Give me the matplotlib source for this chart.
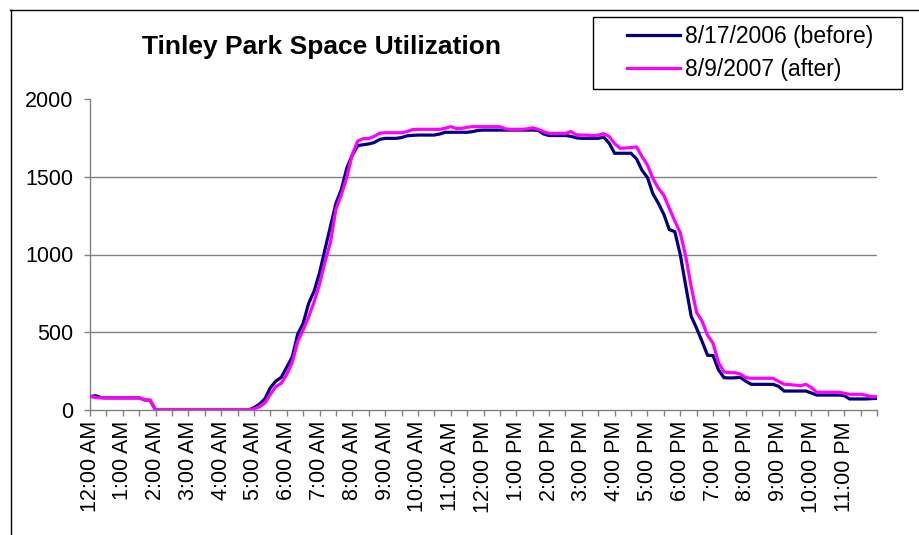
import numpy as np
import matplotlib
matplotlib.use("Agg")
import matplotlib.pyplot as plt
from matplotlib.lines import Line2D
from matplotlib.patches import Rectangle

plt.rcParams['font.family'] = ['Liberation Sans', 'DejaVu Sans']

# 10-minute samples from 12:00 AM to 12:00 AM (next day)
before_2006 = [
    86, 92, 80, 78, 78, 78, 78, 78, 78, 78, 65, 62,            # 0:00-1:50
    0, 0, 0, 0, 0, 0, 0, 0, 0, 0, 0, 0,                        # 2:00-3:50
    0, 0, 0, 0, 0, 0,                                          # 4:00-4:50
    15, 37, 72, 143, 186, 210,                                 # 5:00-5:50
    275, 341, 487, 557, 685, 764,                              # 6:00-6:50
    882, 1034, 1180, 1329, 1420, 1557,                         # 7:00-7:50
    1640, 1700, 1706, 1711, 1720, 1740,                        # 8:00-8:50
    1747, 1747, 1747, 1752, 1763, 1766,                        # 9:00-9:50
    1768, 1768, 1768, 1768, 1775, 1786,                        # 10:00-10:50
    1786, 1786, 1786, 1786, 1790, 1798,                        # 11:00-11:50
    1800, 1800, 1800, 1800, 1800, 1800,                        # 12:00-12:50
    1800, 1800, 1800, 1800, 1798, 1775,                        # 13:00-13:50
    1765, 1765, 1765, 1765, 1760, 1750,                        # 14:00-14:50
    1747, 1747, 1747, 1747, 1755, 1715,                        # 15:00-15:50
    1651, 1651, 1651, 1651, 1615, 1542,                        # 16:00-16:50
    1495, 1390, 1329, 1258, 1160, 1147,                        # 17:00-17:50
    1000, 799, 603, 525, 440, 352,                             # 18:00-18:50
    350, 258, 208, 206, 207, 210,                              # 19:00-19:50
    185, 165, 165, 165, 165, 165,                              # 20:00-20:50
    152, 122, 122, 122, 122, 122,                              # 21:00-21:50
    109, 96, 96, 96, 96, 96,                                   # 22:00-22:50
    92, 71, 71, 71, 71, 73,                                    # 23:00-23:50
    75,                                                        # 24:00
]

after_2007 = [
    88, 80, 78, 78, 78, 78, 78, 78, 78, 78, 65, 63,
    0, 0, 0, 0, 0, 0, 0, 0, 0, 0, 0, 0,
    0, 0, 0, 0, 0, 0,
    8, 20, 45, 101, 150, 172,
    228, 305, 439, 514, 599, 695,
    809, 953, 1078, 1292, 1385, 1497,
    1644, 1730, 1745, 1745, 1760, 1780,
    1783, 1783, 1783, 1783, 1790, 1803,
    1805, 1805, 1805, 1805, 1805, 1812,
    1822, 1811, 1811, 1818, 1822, 1822,
    1822, 1822, 1822, 1822, 1808, 1805,
    1805, 1805, 1808, 1815, 1805, 1790,
    1779, 1779, 1779, 1779, 1790, 1770,
    1768, 1768, 1765, 1768, 1777, 1759,
    1713, 1683, 1685, 1688, 1692, 1630,
    1576, 1489, 1426, 1381, 1297, 1216,
    1140, 989, 794, 627, 571, 480,
    430, 305, 245, 240, 240, 231,
    208, 204, 204, 204, 204, 204,
    184, 166, 163, 160, 156, 165,
    144, 114, 114, 114, 114, 114,
    108, 101, 101, 101, 95, 86,
    86,
]

hour_labels = ["12:00 AM", "1:00 AM", "2:00 AM", "3:00 AM", "4:00 AM", "5:00 AM",
               "6:00 AM", "7:00 AM", "8:00 AM", "9:00 AM", "10:00 AM", "11:00 AM",
               "12:00 PM", "1:00 PM", "2:00 PM", "3:00 PM", "4:00 PM", "5:00 PM",
               "6:00 PM", "7:00 PM", "8:00 PM", "9:00 PM", "10:00 PM", "11:00 PM"]
y_ticks = [0, 500, 1000, 1500, 2000]
series_names = ["8/17/2006 (before)", "8/9/2007 (after)"]

W, H = 919, 535
fig = plt.figure(figsize=(W / 100, H / 100), dpi=100)
ax = fig.add_axes([90 / W, 1 - 410 / H, 787 / W, 311 / H])

x = np.arange(len(before_2006))
ax.plot(x, before_2006, color='#000080', lw=2.3, zorder=3, label=series_names[0],
        solid_joinstyle='miter')
ax.plot(x, after_2007, color='#FF00FF', lw=2.3, zorder=4, label=series_names[1],
        solid_joinstyle='miter')

ax.set_xlim(0, len(before_2006) - 1)
ax.set_ylim(y_ticks[0], y_ticks[-1])

for v in y_ticks[1:-1]:
    ax.axhline(v, color='#808080', lw=1.0, zorder=1)

ax.set_yticks(y_ticks)
ax.set_yticklabels([str(v) for v in y_ticks], fontsize=15.5)
ax.set_xticks(np.arange(0, len(before_2006), 3), minor=True)
ax.set_xticks(np.arange(0, 6 * len(hour_labels), 6))
ax.set_xticklabels(hour_labels, rotation=90, fontsize=15.5, va='top', ha='center')

ax.tick_params(axis='y', direction='out', length=4, width=1, color='#808080', pad=8)
ax.tick_params(axis='x', which='both', direction='out', length=4, width=1, color='#808080', pad=4)

for s in ['top', 'right']:
    ax.spines[s].set_visible(False)
for s in ['left', 'bottom']:
    ax.spines[s].set_color('#808080')
    ax.spines[s].set_linewidth(1.0)

# title
fig.text(321 / W, 1 - 47 / H, "Tinley Park Space Utilization", fontsize=19,
         fontweight='bold', ha='center', va='center')

# legend box and entries
fig.add_artist(Rectangle((593 / W, 1 - 89 / H), 309 / W, 72 / H, transform=fig.transFigure,
                         fill=False, edgecolor='black', lw=1.0))
leg = fig.legend(loc='upper left', bbox_to_anchor=(627 / W, 1 - 25 / H),
                 frameon=False, fontsize=16.5, handlelength=2.3, handletextpad=0.25,
                 borderpad=0, borderaxespad=0, labelspacing=0.45)
for line in leg.get_lines():
    line.set_linewidth(2.3)

# chart area frame (cropped at right and bottom)
fig.add_artist(Line2D([10 / W, 1.0], [1 - 9.5 / H, 1 - 9.5 / H], transform=fig.transFigure,
                      color='black', lw=1.0))
fig.add_artist(Line2D([10.5 / W, 10.5 / W], [0.0, 1 - 9.5 / H], transform=fig.transFigure,
                      color='black', lw=1.0))

fig.savefig("out.png", dpi=100)
